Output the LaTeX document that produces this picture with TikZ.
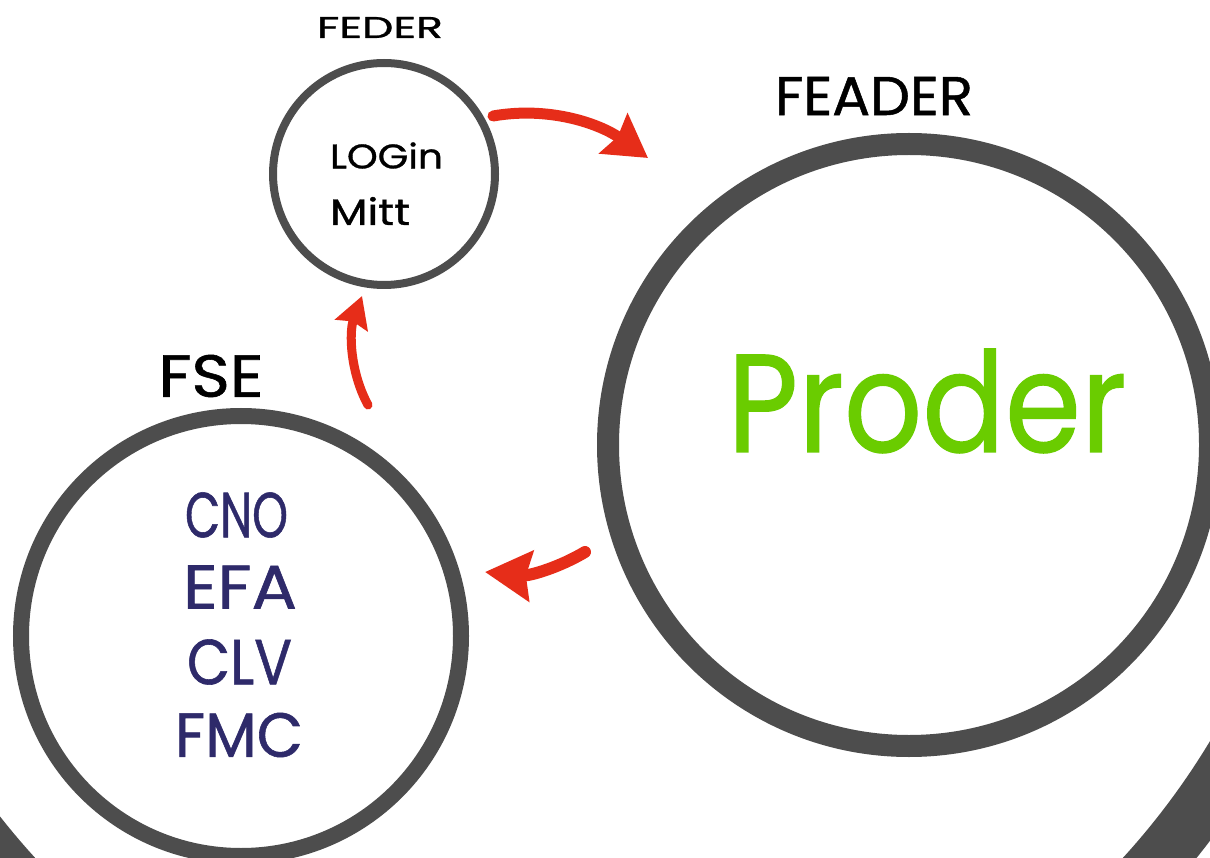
\documentclass[tikz,border=0pt]{standalone}
\usepackage{fontspec}
\setmainfont{Poppins}[FakeBold=0.9]
\usepackage{graphicx}
\usetikzlibrary{arrows.meta}
\definecolor{ringgray}{RGB}{77,77,77}
\definecolor{arrred}{RGB}{230,45,25}
\definecolor{navytxt}{RGB}{46,42,106}
\definecolor{prodgreen}{RGB}{106,204,0}
\newcommand{\fitbox}[3]{\resizebox{#1pt}{#2pt}{#3}}
\begin{document}
\begin{tikzpicture}[x=1pt,y=-1pt,
  ring/.style={circle,draw=ringgray,inner sep=0pt,outer sep=0pt},
  lbl/.style={inner sep=0pt,outer sep=0pt,anchor=center},
  flow/.style={draw=arrred,fill=arrred,line cap=round}]
\useasboundingbox (0,0) rectangle (1210,858);
\clip (0,0) rectangle (1210,858);
\fill[white] (0,0) rectangle (1210,858);
% rings
\node[ring,line width=56pt,minimum size=1528pt] (outer) at (579,362) {};
\node[ring,line width=22pt,minimum size=602pt] (prod) at (909,445) {};
\node[ring,line width=16pt,minimum size=440pt] (fse) at (241,636) {};
\node[ring,line width=8pt,minimum size=222pt] (login) at (384,174) {};
% labels
\node[lbl] (tfeder) at (380,27.5) {\fitbox{126}{21}{FEDER}};
\node[lbl] (tlogin) at (386.5,155.5) {\fitbox{113}{26}{LOGin}};
\node[lbl] (tmitt) at (370,211) {\fitbox{80}{28}{Mitt}};
\node[lbl] (tfeader) at (874,96) {\fitbox{198}{38}{FEADER}};
\node[lbl,text=prodgreen] (tproder) at (927,401) {\fitbox{399}{103}{Proder}};
\node[lbl] (tfse) at (211,376) {\fitbox{105}{42}{FSE}};
\node[lbl,text=navytxt] (tcno) at (236.5,515) {\fitbox{103}{45}{CNO}};
\node[lbl,text=navytxt] (tefa) at (240,587) {\fitbox{114}{43}{EFA}};
\node[lbl,text=navytxt] (tclv) at (239.5,662) {\fitbox{105}{45}{CLV}};
\node[lbl,text=navytxt] (tfmc) at (239,735) {\fitbox{128}{44}{FMC}};
% arrow ends
\coordinate (a1s) at (493,116);
\coordinate (a1e) at (648,158);
\coordinate (a2s) at (368,405);
\coordinate (a2e) at (362,296);
\coordinate (a3s) at (585,552);
\coordinate (a3e) at (485,572);
% arrows
\draw[flow,fill=none,line width=11pt,-{Stealth[length=42pt,width=48pt,inset=5pt,fill=arrred]}]
  (a1s) .. controls (550,106) and (600,124) .. (a1e);
\draw[flow,fill=none,line width=9pt,-{Stealth[length=31pt,width=34pt,inset=4pt,fill=arrred]}]
  (a2s) .. controls (350,372) and (349,332) .. (a2e);
\draw[flow,fill=none,line width=12pt,-{Stealth[length=46pt,width=50pt,inset=5pt,fill=arrred]}]
  (a3s) .. controls (560,567) and (530,576) .. (a3e);
\end{tikzpicture}
\end{document}
